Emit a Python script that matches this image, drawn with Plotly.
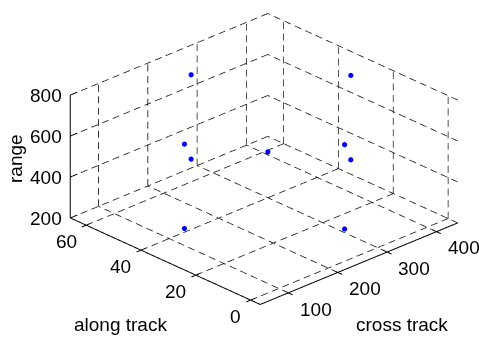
import plotly.graph_objects as go
import numpy as np

# ---- data ----
cross_track = [261, 92, 261, 261, 429, 261, 429, 92, 261]
along_track = [61, 33, 61, 33, 33, 5, 33, 33, 5]
range_vals = [712, 712, 300, 506, 712, 712, 300, 300, 300]

x_ticks = [100, 200, 300, 400]
y_ticks = [0, 20, 40, 60]
z_ticks = [200, 400, 600, 800]
x_rng = [43, 443]
y_rng = [-3.5, 65.8]
z_rng = [200, 800]

x0, x1 = x_rng; y0, y1 = y_rng; z0, z1 = z_rng

# approximate on-screen pixels per data unit (used only to size dashes)
px_per_unit = np.array([214.0 / (x1 - x0), 209.3 / (y1 - y0), 123.3 / (z1 - z0)])
DASH_ON, DASH_PERIOD = 7.0, 11.5

gx, gy, gz = [], [], []
def seg(p, q, X=gx, Y=gy, Z=gz):
    X.extend([p[0], q[0], None]); Y.extend([p[1], q[1], None]); Z.extend([p[2], q[2], None])

def dashed(p, q):
    p = np.array(p, float); q = np.array(q, float)
    L = float(np.linalg.norm((q - p) * px_per_unit))
    t = 0.0
    while t < L:
        t1 = min(t + DASH_ON, L)
        seg(p + (q - p) * t / L, p + (q - p) * t1 / L)
        t += DASH_PERIOD

# ---- back-plane dashed grid (MATLAB style) ----
for xv in x_ticks:
    dashed((xv, y0, z0), (xv, y1, z0))
    dashed((xv, y1, z0), (xv, y1, z1))
for yv in y_ticks:
    dashed((x0, yv, z0), (x1, yv, z0))
    dashed((x1, yv, z0), (x1, yv, z1))
for zv in z_ticks:
    dashed((x0, y1, zv), (x1, y1, zv))
    dashed((x1, y0, zv), (x1, y1, zv))

# ---- solid axis lines + tick marks ----
ax, ay, az = [], [], []
seg((x0, y0, z0), (x1, y0, z0), ax, ay, az)
seg((x0, y0, z0), (x0, y1, z0), ax, ay, az)
seg((x0, y1, z0), (x0, y1, z1), ax, ay, az)
for xv in x_ticks:
    seg((xv, y0 - 1.6, z0), (xv, y0 + 1.6, z0), ax, ay, az)
for yv in y_ticks:
    seg((x0 - 9, yv, z0), (x0 + 9, yv, z0), ax, ay, az)
for zv in z_ticks:
    seg((x0, y1, zv), (x0 + 14, y1, zv), ax, ay, az)

fig = go.Figure()
fig.add_trace(go.Scatter3d(x=gx, y=gy, z=gz, mode="lines",
                           line=dict(color="rgb(25,25,25)", width=1.6),
                           hoverinfo="skip", showlegend=False))
fig.add_trace(go.Scatter3d(x=ax, y=ay, z=az, mode="lines",
                           line=dict(color="black", width=2),
                           hoverinfo="skip", showlegend=False))
fig.add_trace(go.Scatter3d(x=cross_track, y=along_track, z=range_vals, mode="markers",
                           marker=dict(color="rgb(0,0,255)", size=3, line=dict(width=0)),
                           showlegend=False))

a = np.radians(43.6); e = np.radians(25.7)
d = np.array([-np.sin(a) * np.cos(e), -np.cos(a) * np.cos(e), np.sin(e)])
eye = 2.0 * d
k = 1.715

# pad the scene ranges symmetrically (keeps the same pixel scale / centre) so the
# axis lines and tick marks on the box edges are not clipped
pad = np.array([12.0, 2.5, 18.0])
span = np.array([x1 - x0, y1 - y0, z1 - z0])
grow = (span + 2 * pad) / span
asp = np.array([k, 1.01 * k, 0.5 * k]) * grow

font = dict(family="Liberation Sans, Arial, sans-serif", size=19, color="black")

scene_ann = []
for xv in x_ticks:
    scene_ann.append(dict(x=xv, y=y0, z=z0, text=str(xv), showarrow=False, font=font,
                          xanchor="left", yanchor="middle", xshift=9, yshift=-16))
for yv in y_ticks:
    scene_ann.append(dict(x=x0, y=yv, z=z0, text=str(yv), showarrow=False, font=font,
                          xanchor="right", yanchor="middle", xshift=-8, yshift=-16))
for zv in z_ticks:
    scene_ann.append(dict(x=x0, y=y1, z=zv, text=str(zv), showarrow=False, font=font,
                          xanchor="right", yanchor="middle", xshift=-7, yshift=0))

axcommon = dict(showgrid=False, zeroline=False, showbackground=False, showline=False,
                showspikes=False, ticks="", showticklabels=False, title=dict(text=""))
fig.update_layout(
    width=479, height=337, margin=dict(l=0, r=0, t=0, b=0),
    paper_bgcolor="white", plot_bgcolor="white",
    font=font,
    scene=dict(
        domain=dict(x=[0.103, 1.0], y=[0.0552, 1.0]),
        xaxis=dict(range=[x0 - pad[0], x1 + pad[0]], **axcommon),
        yaxis=dict(range=[y0 - pad[1], y1 + pad[1]], **axcommon),
        zaxis=dict(range=[z0 - pad[2], z1 + pad[2]], **axcommon),
        aspectmode="manual", aspectratio=dict(x=asp[0], y=asp[1], z=asp[2]),
        camera=dict(eye=dict(x=eye[0], y=eye[1], z=eye[2]), up=dict(x=0, y=0, z=1),
                    center=dict(x=0, y=0, z=0), projection=dict(type="orthographic")),
        annotations=scene_ann,
    ),
    annotations=[
        dict(text="along track", x=121 / 479, y=1 - 324 / 337, xref="paper", yref="paper",
             xanchor="center", yanchor="middle", showarrow=False, font=font),
        dict(text="cross track", x=402 / 479, y=1 - 324 / 337, xref="paper", yref="paper",
             xanchor="center", yanchor="middle", showarrow=False, font=font),
        dict(text="range", x=15 / 479, y=1 - 159 / 337, xref="paper", yref="paper",
             xanchor="center", yanchor="middle", showarrow=False, textangle=-90, font=font),
    ],
)
fig.write_html("out.html")
